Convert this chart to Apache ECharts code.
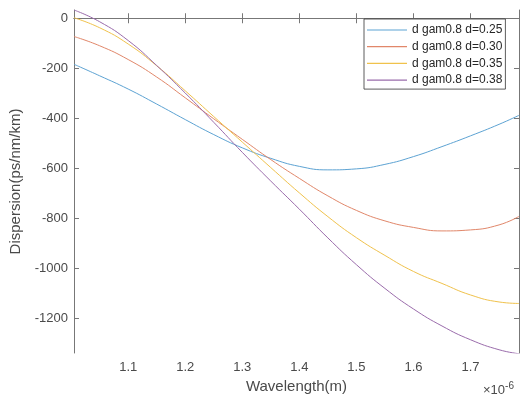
<!DOCTYPE html>
<html>
<head>
<meta charset="utf-8">
<script src="https://cdn.jsdelivr.net/npm/echarts@6/dist/echarts.min.js"></script>
<style>html,body{margin:0;padding:0;background:#fff;}#c{width:521px;height:401px;}</style>
</head>
<body>
<div id="c"></div>
<script>
var wavelength = [1.005, 1.05, 1.1, 1.15, 1.2, 1.25, 1.3, 1.35, 1.4, 1.45, 1.5, 1.55, 1.6, 1.65, 1.7, 1.75, 1.785];
var d025 = [-184, -230, -283, -343, -405, -465, -518, -560, -592, -606, -602, -584, -553, -513, -470, -424, -388];
var d030 = [-73, -110, -165, -235, -318, -402, -484, -565, -640, -710, -768, -810, -836, -850, -846, -826, -792];
var d035 = [2, -38, -103, -190, -290, -393, -495, -597, -698, -793, -877, -948, -1012, -1060, -1106, -1134, -1140];
var d038 = [33, -14, -89, -189, -299, -416, -536, -651, -763, -878, -985, -1080, -1162, -1230, -1285, -1325, -1341];
var seriesNames = ['d gam0.8 d=0.25', 'd gam0.8 d=0.30', 'd gam0.8 d=0.35', 'd gam0.8 d=0.38'];
var xTicks = [1.1, 1.2, 1.3, 1.4, 1.5, 1.6, 1.7];
var yTicks = [-1200, -1000, -800, -600, -400, -200, 0];

function pairs(ys) { return wavelength.map(function (x, i) { return [x, ys[i]]; }); }
var colors = ['#5da3d3', '#e1876a', '#f0c24c', '#9a6cab'];
var allData = [d025, d030, d035, d038];
var font = 'Liberation Sans, Arial, Helvetica, sans-serif';
var axisColor = '#777777';
var textColor = '#4a4a4a';

var chart = echarts.init(document.getElementById('c'), null, { renderer: 'canvas' });
var xMin = 1.005, xMax = 1.785, yMin = -1338, yMax = 33;
function hx(pos, show) {
  return {
    type: 'value', position: pos, min: xMin, max: xMax,
    axisLine: { show: true, lineStyle: { color: axisColor, width: 1 } },
    axisTick: { show: true, inside: true, length: 5, customValues: xTicks, lineStyle: { color: axisColor } },
    axisLabel: { show: show, customValues: xTicks, margin: 8, fontSize: 13, color: textColor, fontFamily: font,
      formatter: function (v) { return v.toFixed(1); } },
    splitLine: { show: false }
  };
}
function hy(pos, show) {
  return {
    type: 'value', position: pos, min: yMin, max: yMax,
    axisLine: { show: true, lineStyle: { color: axisColor, width: 1 } },
    axisTick: { show: true, inside: true, length: 5, customValues: yTicks, lineStyle: { color: axisColor } },
    axisLabel: { show: show, customValues: yTicks, margin: 6, fontSize: 13, color: textColor, fontFamily: font,
      formatter: function (v) { return String(v); } },
    splitLine: { show: false }
  };
}
var xa0 = hx('bottom', true);
xa0.name = 'Wavelength(m)'; xa0.nameLocation = 'middle'; xa0.nameGap = 25;
xa0.nameTextStyle = { fontSize: 15, color: textColor, fontFamily: font };
var ya0 = hy('left', true);
ya0.name = 'Dispersion(ps/nm/km)'; ya0.nameLocation = 'middle'; ya0.nameGap = 49;
ya0.nameTextStyle = { fontSize: 15, color: textColor, fontFamily: font };

chart.setOption({
  animation: false,
  backgroundColor: '#fff',
  grid: { left: 74, top: 10, right: 2, bottom: 48, containLabel: false },
  xAxis: [xa0, hx('top', false)],
  yAxis: [ya0, hy('right', false)],
  legend: {
    orient: 'vertical', left: 364, top: 19,
    data: seriesNames,
    icon: 'rect', itemWidth: 40, itemHeight: 1.2, itemGap: 4.7,
    padding: [5, 3, 3, 3],
    backgroundColor: '#fff', borderColor: '#333', borderWidth: 0.8,
    textStyle: { fontSize: 12, color: '#262626', fontFamily: font, padding: [0, 0, 0, 0], lineHeight: 12 }
  },
  graphic: [{
    type: 'text', left: 483, top: 381,
    style: {
      text: '×10{s|-6}', fill: textColor, fontSize: 13, fontFamily: font,
      rich: { s: { fontSize: 10, verticalAlign: 'top', padding: [0, 0, 8, 0], fill: textColor, fontFamily: font } }
    }
  }],
  series: allData.map(function (d, i) {
    return {
      name: seriesNames[i], type: 'line', data: pairs(d), smooth: 0.5,
      showSymbol: false, symbol: 'none', clip: true,
      lineStyle: { color: colors[i], width: 1 }, itemStyle: { color: colors[i] }
    };
  })
});
</script>
</body>
</html>
